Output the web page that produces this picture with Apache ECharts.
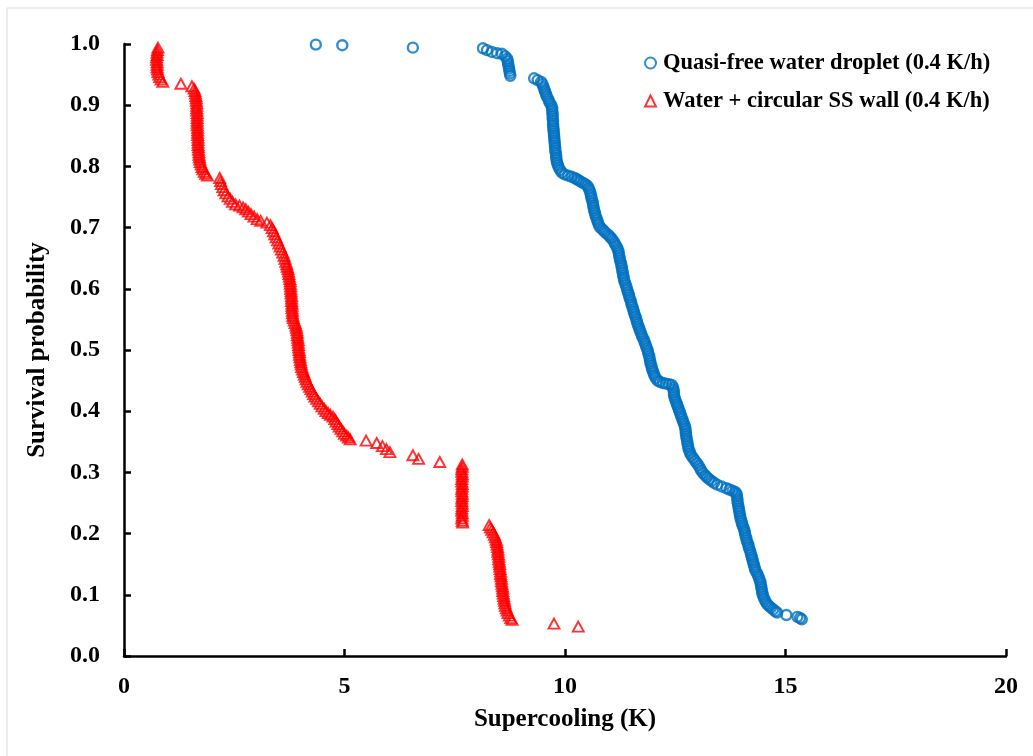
<!DOCTYPE html>
<html>
<head>
<meta charset="utf-8">
<script src="https://cdn.jsdelivr.net/npm/echarts@6/dist/echarts.min.js"></script>
<style>
  html, body { margin: 0; padding: 0; background: #fff; }
  #chart { width: 1033px; height: 756px; }
</style>
</head>
<body>
<div id="chart"></div>
<script>
// Survival probability vs. supercooling for two freezing configurations
const seriesNames = [
  'Quasi-free water droplet (0.4 K/h)',
  'Water + circular SS wall (0.4 K/h)'
];
const xTicks = [0, 5, 10, 15, 20];
const yTicks = [0, 0.1, 0.2, 0.3, 0.4, 0.5, 0.6, 0.7, 0.8, 0.9, 1.0];

// Quasi-free droplet: [supercooling (K), survival probability]
const dropletPoints = [
  [4.35, 0.999], [4.95, 0.998], [6.55, 0.994],
  [8.14, 0.993], [8.23, 0.990], [8.34, 0.987], [8.46, 0.985], [8.57, 0.984], [8.64, 0.980],
  [8.69, 0.976], [8.70, 0.972], [8.71, 0.968], [8.72, 0.964], [8.73, 0.960], [8.74, 0.956],
  [8.75, 0.952], [8.76, 0.948],
  [9.30, 0.944], [9.38, 0.941], [9.46, 0.938], [9.49, 0.934], [9.51, 0.930], [9.53, 0.926],
  [9.55, 0.922], [9.57, 0.918], [9.59, 0.914], [9.62, 0.910], [9.64, 0.906], [9.67, 0.902],
  [9.70, 0.898], [9.71, 0.894], [9.71, 0.890], [9.72, 0.886], [9.72, 0.882], [9.72, 0.878],
  [9.73, 0.874], [9.73, 0.870], [9.73, 0.866], [9.74, 0.862], [9.74, 0.858], [9.75, 0.854],
  [9.75, 0.850], [9.76, 0.846], [9.76, 0.842], [9.77, 0.838], [9.77, 0.834], [9.78, 0.830],
  [9.78, 0.826], [9.79, 0.822], [9.80, 0.818], [9.80, 0.814], [9.81, 0.810], [9.82, 0.806],
  [9.84, 0.802], [9.86, 0.798], [9.89, 0.794], [9.93, 0.790],
  [9.99, 0.787], [10.07, 0.785], [10.15, 0.783], [10.22, 0.781], [10.27, 0.779], [10.31, 0.777],
  [10.36, 0.775], [10.41, 0.773], [10.46, 0.771], [10.51, 0.768],
  [10.54, 0.764], [10.56, 0.760], [10.58, 0.756], [10.59, 0.752], [10.60, 0.748], [10.62, 0.744],
  [10.63, 0.740], [10.64, 0.736], [10.65, 0.732], [10.66, 0.728], [10.68, 0.724], [10.69, 0.720],
  [10.71, 0.716], [10.73, 0.712], [10.75, 0.708], [10.77, 0.704], [10.80, 0.700],
  [10.85, 0.697], [10.89, 0.694], [10.93, 0.691], [10.98, 0.688], [11.02, 0.685], [11.06, 0.682],
  [11.10, 0.678], [11.13, 0.674], [11.16, 0.670], [11.19, 0.666], [11.21, 0.662], [11.22, 0.658],
  [11.23, 0.654], [11.24, 0.650], [11.25, 0.646], [11.27, 0.642], [11.28, 0.638], [11.29, 0.634],
  [11.30, 0.630], [11.31, 0.626], [11.32, 0.622], [11.33, 0.618], [11.34, 0.614], [11.36, 0.610],
  [11.38, 0.606], [11.40, 0.602], [11.41, 0.598], [11.43, 0.594], [11.45, 0.590], [11.46, 0.586],
  [11.48, 0.582], [11.50, 0.578], [11.51, 0.574], [11.53, 0.570], [11.55, 0.566], [11.56, 0.562],
  [11.58, 0.558], [11.60, 0.554], [11.62, 0.550], [11.63, 0.546], [11.65, 0.542], [11.67, 0.538],
  [11.69, 0.534], [11.71, 0.530], [11.73, 0.526], [11.75, 0.522], [11.78, 0.518], [11.80, 0.514],
  [11.82, 0.510], [11.84, 0.506], [11.86, 0.502], [11.88, 0.498], [11.89, 0.494], [11.91, 0.490],
  [11.92, 0.486], [11.93, 0.482], [11.94, 0.478], [11.96, 0.474], [11.97, 0.470], [11.99, 0.466],
  [12.01, 0.462], [12.03, 0.458], [12.06, 0.454], [12.10, 0.450], [12.15, 0.448], [12.22, 0.446],
  [12.29, 0.445], [12.36, 0.444], [12.42, 0.443],
  [12.45, 0.439], [12.46, 0.435], [12.47, 0.431], [12.47, 0.427], [12.48, 0.423], [12.50, 0.419],
  [12.52, 0.415], [12.54, 0.411], [12.56, 0.407], [12.58, 0.403], [12.60, 0.399], [12.62, 0.395],
  [12.64, 0.391], [12.66, 0.387], [12.68, 0.383], [12.70, 0.379], [12.72, 0.375], [12.73, 0.371],
  [12.74, 0.367], [12.74, 0.363], [12.75, 0.359], [12.76, 0.355], [12.77, 0.351], [12.78, 0.347],
  [12.79, 0.343], [12.80, 0.339], [12.82, 0.335], [12.84, 0.331], [12.87, 0.327], [12.91, 0.323],
  [12.95, 0.319], [12.99, 0.315], [13.03, 0.311], [13.06, 0.307], [13.09, 0.303], [13.13, 0.299],
  [13.18, 0.295], [13.22, 0.292], [13.27, 0.289], [13.32, 0.286], [13.38, 0.283], [13.45, 0.280],
  [13.55, 0.277], [13.66, 0.274], [13.73, 0.272], [13.80, 0.270], [13.86, 0.268],
  [13.89, 0.265], [13.90, 0.261], [13.91, 0.257], [13.91, 0.253], [13.92, 0.249], [13.93, 0.245],
  [13.94, 0.241], [13.95, 0.237], [13.96, 0.233], [13.97, 0.229], [13.98, 0.225], [14.00, 0.221],
  [14.01, 0.217], [14.03, 0.213], [14.05, 0.209], [14.07, 0.205], [14.08, 0.201], [14.09, 0.197],
  [14.11, 0.193], [14.12, 0.189], [14.14, 0.185], [14.16, 0.181], [14.17, 0.177], [14.19, 0.173],
  [14.21, 0.169], [14.22, 0.165], [14.24, 0.161], [14.25, 0.157], [14.27, 0.153], [14.28, 0.149],
  [14.30, 0.145], [14.31, 0.141], [14.34, 0.137], [14.37, 0.133], [14.39, 0.129], [14.41, 0.125],
  [14.43, 0.121], [14.44, 0.117], [14.45, 0.113], [14.46, 0.109], [14.47, 0.105], [14.48, 0.101],
  [14.50, 0.097], [14.52, 0.093], [14.55, 0.089], [14.58, 0.085], [14.62, 0.082], [14.67, 0.079],
  [14.72, 0.076], [14.77, 0.073], [14.81, 0.071],
  [15.02, 0.067], [15.27, 0.064], [15.33, 0.062], [15.37, 0.060]
];

// Water with circular stainless-steel wall: [supercooling (K), survival probability]
const wallPoints = [
  [0.77, 0.994], [0.76, 0.990], [0.75, 0.986], [0.75, 0.982], [0.74, 0.978], [0.74, 0.974],
  [0.75, 0.970], [0.75, 0.966], [0.75, 0.962], [0.76, 0.958], [0.77, 0.954], [0.79, 0.950],
  [0.81, 0.946], [0.84, 0.942], [0.88, 0.938],
  [1.29, 0.935], [1.54, 0.931],
  [1.59, 0.927], [1.61, 0.923], [1.62, 0.919], [1.63, 0.915], [1.64, 0.911], [1.64, 0.907],
  [1.65, 0.903], [1.65, 0.899], [1.65, 0.895], [1.65, 0.891], [1.66, 0.887], [1.66, 0.883],
  [1.66, 0.879], [1.66, 0.875], [1.66, 0.871], [1.66, 0.867], [1.67, 0.863], [1.67, 0.859],
  [1.67, 0.855], [1.67, 0.851], [1.68, 0.847], [1.68, 0.843], [1.68, 0.839], [1.68, 0.835],
  [1.69, 0.831], [1.69, 0.827], [1.70, 0.823], [1.70, 0.819], [1.71, 0.815], [1.72, 0.811],
  [1.73, 0.807], [1.75, 0.803], [1.77, 0.799], [1.79, 0.795], [1.82, 0.791], [1.85, 0.788],
  [1.89, 0.785],
  [2.17, 0.781], [2.19, 0.776], [2.21, 0.771], [2.24, 0.766], [2.27, 0.761], [2.31, 0.756],
  [2.36, 0.751], [2.41, 0.747], [2.46, 0.742], [2.53, 0.738], [2.62, 0.736], [2.70, 0.733],
  [2.76, 0.730], [2.82, 0.726], [2.88, 0.722], [2.95, 0.718], [3.02, 0.714], [3.10, 0.711],
  [3.24, 0.708], [3.32, 0.704], [3.36, 0.699], [3.39, 0.694], [3.42, 0.689], [3.45, 0.684],
  [3.48, 0.679], [3.51, 0.674], [3.54, 0.669], [3.57, 0.664], [3.60, 0.659], [3.63, 0.654],
  [3.65, 0.649], [3.67, 0.644], [3.69, 0.640], [3.70, 0.636], [3.72, 0.632], [3.73, 0.628],
  [3.74, 0.624], [3.75, 0.620], [3.76, 0.616], [3.77, 0.612], [3.77, 0.608], [3.78, 0.604],
  [3.78, 0.600], [3.79, 0.596], [3.79, 0.592], [3.80, 0.588], [3.80, 0.584], [3.80, 0.580],
  [3.81, 0.576], [3.81, 0.572], [3.81, 0.568], [3.82, 0.564], [3.82, 0.560], [3.83, 0.556],
  [3.84, 0.552], [3.86, 0.548], [3.88, 0.544], [3.90, 0.540], [3.91, 0.536], [3.92, 0.532],
  [3.93, 0.528], [3.93, 0.524], [3.94, 0.520], [3.95, 0.516], [3.95, 0.512], [3.96, 0.508],
  [3.96, 0.504], [3.97, 0.500], [3.98, 0.496], [3.98, 0.492], [3.99, 0.488], [4.00, 0.484],
  [4.01, 0.480], [4.02, 0.476], [4.03, 0.472], [4.05, 0.468], [4.07, 0.464], [4.09, 0.460],
  [4.11, 0.456], [4.13, 0.452], [4.15, 0.448], [4.18, 0.444], [4.21, 0.440], [4.24, 0.436],
  [4.27, 0.432], [4.30, 0.428], [4.33, 0.424], [4.37, 0.420], [4.41, 0.416], [4.45, 0.412],
  [4.49, 0.408], [4.54, 0.404], [4.58, 0.400], [4.63, 0.397], [4.68, 0.394], [4.74, 0.391],
  [4.78, 0.387], [4.81, 0.383], [4.85, 0.379], [4.88, 0.375], [4.92, 0.371], [4.96, 0.367],
  [5.00, 0.363], [5.05, 0.360], [5.09, 0.357], [5.13, 0.354],
  [5.49, 0.352], [5.73, 0.348], [5.86, 0.343], [5.95, 0.338], [6.03, 0.333], [6.55, 0.328],
  [6.68, 0.322], [7.16, 0.317],
  [7.67, 0.313], [7.67, 0.309], [7.66, 0.305], [7.66, 0.301], [7.67, 0.297], [7.67, 0.293],
  [7.66, 0.289], [7.66, 0.285], [7.67, 0.281], [7.67, 0.277], [7.66, 0.273], [7.66, 0.269],
  [7.67, 0.265], [7.67, 0.261], [7.66, 0.257], [7.66, 0.253], [7.67, 0.249], [7.67, 0.245],
  [7.66, 0.241], [7.66, 0.237], [7.67, 0.233], [7.67, 0.229], [7.66, 0.225], [7.67, 0.221],
  [7.68, 0.218],
  [8.28, 0.214], [8.31, 0.210], [8.34, 0.206], [8.37, 0.202], [8.40, 0.198], [8.42, 0.194],
  [8.44, 0.190], [8.45, 0.186], [8.46, 0.182], [8.47, 0.178], [8.48, 0.174], [8.48, 0.170],
  [8.49, 0.166], [8.50, 0.162], [8.50, 0.158], [8.51, 0.154], [8.52, 0.150], [8.52, 0.146],
  [8.53, 0.142], [8.54, 0.138], [8.54, 0.134], [8.55, 0.130], [8.56, 0.126], [8.56, 0.122],
  [8.57, 0.118], [8.58, 0.114], [8.59, 0.110], [8.59, 0.106], [8.60, 0.102], [8.61, 0.098],
  [8.62, 0.094], [8.63, 0.090], [8.64, 0.086], [8.65, 0.082], [8.67, 0.078], [8.69, 0.074],
  [8.71, 0.070], [8.74, 0.066], [8.77, 0.062], [8.80, 0.059],
  [9.75, 0.053], [10.30, 0.048]
];

const serif = '"Liberation Serif", "Times New Roman", serif';
const boldText = { fontFamily: serif, fontWeight: 'bold', color: '#000' };

const chart = echarts.init(document.getElementById('chart'), null, { renderer: 'canvas' });

chart.setOption({
  backgroundColor: '#fff',
  animation: false,
  graphic: [{
    type: 'rect',
    shape: { x: 7, y: 8, width: 1060, height: 780 },
    style: { fill: 'none', stroke: '#d9d9d9', lineWidth: 1 },
    silent: true
  }],
  grid: { left: 124, right: 27, top: 44, bottom: 100, containLabel: false },
  legend: {
    orient: 'vertical',
    left: 639,
    top: 46,
    itemWidth: 11,
    itemHeight: 11,
    itemGap: 14,
    textStyle: Object.assign({ fontSize: 22.5, lineHeight: 24, padding: [0, 0, 0, 2] }, boldText),
    data: seriesNames
  },
  xAxis: {
    type: 'value',
    min: xTicks[0],
    max: xTicks[xTicks.length - 1],
    interval: 5,
    name: 'Supercooling (K)',
    nameLocation: 'middle',
    nameGap: 51,
    nameTextStyle: Object.assign({ fontSize: 25 }, boldText),
    axisLine: { lineStyle: { color: '#000', width: 2.5 } },
    axisTick: { inside: true, length: 7, lineStyle: { color: '#000', width: 2.5 } },
    axisLabel: Object.assign({ fontSize: 24, margin: 19 }, boldText),
    splitLine: { show: false }
  },
  yAxis: {
    type: 'value',
    min: yTicks[0],
    max: yTicks[yTicks.length - 1],
    interval: 0.1,
    name: 'Survival probability',
    nameLocation: 'middle',
    nameGap: 74,
    nameTextStyle: Object.assign({ fontSize: 25 }, boldText),
    axisLine: { lineStyle: { color: '#000', width: 2.5 } },
    axisTick: { inside: true, length: 7, lineStyle: { color: '#000', width: 2.5 } },
    axisLabel: Object.assign({ fontSize: 24, margin: 24, formatter: v => v.toFixed(1) }, boldText),
    splitLine: { show: false }
  },
  series: [
    {
      name: seriesNames[0],
      type: 'scatter',
      symbol: 'circle',
      symbolSize: 10,
      itemStyle: { color: 'rgba(255,255,255,0)', borderColor: '#0070C0', borderWidth: 2.4 },
      data: dropletPoints
    },
    {
      name: seriesNames[1],
      type: 'scatter',
      symbol: 'triangle',
      symbolSize: [11, 10],
      itemStyle: { color: 'rgba(255,255,255,0)', borderColor: '#FF0000', borderWidth: 1.9 },
      data: wallPoints
    }
  ]
});
</script>
</body>
</html>
